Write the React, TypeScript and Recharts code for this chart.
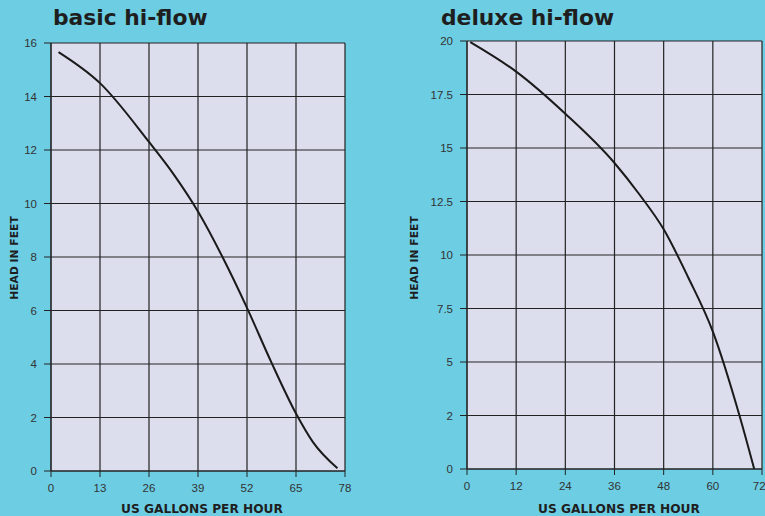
import React from 'react';
import { LineChart, Line, XAxis, YAxis, CartesianGrid } from 'recharts';

// basic hi-flow curve (gallons per hour vs head in feet)
const basicGph = [2, 13, 26, 32.5, 39, 45.5, 52, 58.5, 65, 69.5, 76];
const basicHead = [15.66, 14.5, 12.3, 11.1, 9.7, 8.0, 6.1, 4.05, 2.15, 1.08, 0.1];
const basicXTicks = [0, 13, 26, 39, 52, 65, 78];
const basicYTicks = [0, 2, 4, 6, 8, 10, 12, 14, 16];

// deluxe hi-flow curve
const deluxeGph = [0.8, 12, 24, 36, 42, 48, 54, 60, 66.5, 70.1];
const deluxeHead = [19.95, 18.57, 16.6, 14.3, 12.85, 11.2, 8.95, 6.42, 2.5, 0];
const deluxeXTicks = [0, 12, 24, 36, 48, 60, 72];
const deluxeYTicks = [0, 2.5, 5, 7.5, 10, 12.5, 15, 17.5, 20];
const deluxeYLabels = ['0', '2', '5', '7.5', '10', '12.5', '15', '17.5', '20'];

const basicData = basicGph.map((x, i) => ({ gph: x, head: basicHead[i] }));
const deluxeData = deluxeGph.map((x, i) => ({ gph: x, head: deluxeHead[i] }));

const BG = '#6ccde3';
const PLOT = '#dcdeee';
const INK = '#222';
const tickStyle = { fontSize: 11.5, fill: '#333', fontFamily: 'Liberation Sans, Arial, sans-serif' };

const titleStyle: React.CSSProperties = {
  position: 'absolute',
  top: 7,
  fontFamily: '"DejaVu Sans", sans-serif',
  fontWeight: 700,
  fontSize: 21.8,
  lineHeight: 1,
  color: '#1e1e1e',
  whiteSpace: 'nowrap',
};

const xLabelStyle: React.CSSProperties = {
  position: 'absolute',
  top: 503,
  fontFamily: '"DejaVu Sans", sans-serif',
  fontWeight: 700,
  fontSize: 12.2,
  lineHeight: 1,
  color: '#1e1e1e',
  whiteSpace: 'nowrap',
  transform: 'translateX(-50%)',
};

const yLabelStyle: React.CSSProperties = {
  position: 'absolute',
  top: 257.5,
  fontFamily: '"DejaVu Sans", sans-serif',
  fontWeight: 700,
  fontSize: 10.75,
  lineHeight: 1,
  color: '#1e1e1e',
  whiteSpace: 'nowrap',
  transform: 'translate(-50%, -50%) rotate(-90deg)',
};

const App: React.FC = () => {
  return (
    <div style={{ position: 'absolute', left: 0, top: 0, width: 765, height: 516, background: BG, overflow: 'hidden' }}>
      <div style={{ ...titleStyle, left: 53 }}>basic hi-flow</div>
      <div style={{ ...titleStyle, left: 441 }}>deluxe hi-flow</div>

      <div style={{ position: 'absolute', left: 0, top: 0 }}>
        <LineChart width={380} height={516} data={basicData} margin={{ top: 43, right: 35, bottom: 20, left: 0 }}>
          <CartesianGrid stroke={INK} strokeWidth={1.2} fill={PLOT} fillOpacity={1} />
          <XAxis
            dataKey="gph"
            type="number"
            domain={[0, 78]}
            ticks={basicXTicks}
            height={25}
            tick={tickStyle}
            tickSize={6}
            tickMargin={7}
            stroke={INK}
          />
          <YAxis
            dataKey="head"
            type="number"
            domain={[0, 16]}
            ticks={basicYTicks}
            width={51}
            tick={tickStyle}
            tickSize={7}
            tickMargin={7}
            stroke={INK}
          />
          <Line dataKey="head" type="monotone" stroke="#1a1a1a" strokeWidth={2} dot={false} isAnimationActive={false} />
        </LineChart>
      </div>

      <div style={{ position: 'absolute', left: 400, top: 0 }}>
        <LineChart width={365} height={516} data={deluxeData} margin={{ top: 41, right: 3, bottom: 22, left: 0 }}>
          <CartesianGrid stroke={INK} strokeWidth={1.2} fill={PLOT} fillOpacity={1} />
          <XAxis
            dataKey="gph"
            type="number"
            domain={[0, 72]}
            ticks={deluxeXTicks}
            height={25}
            tick={tickStyle}
            tickSize={6}
            tickMargin={7}
            stroke={INK}
          />
          <YAxis
            dataKey="head"
            type="number"
            domain={[0, 20]}
            ticks={deluxeYTicks}
            tickFormatter={(v: number) => deluxeYLabels[deluxeYTicks.indexOf(v)] ?? String(v)}
            width={67}
            tick={tickStyle}
            tickSize={7}
            tickMargin={7}
            stroke={INK}
          />
          <Line dataKey="head" type="monotone" stroke="#1a1a1a" strokeWidth={2} dot={false} isAnimationActive={false} />
        </LineChart>
      </div>

      <div style={{ ...xLabelStyle, left: 202 }}>US GALLONS PER HOUR</div>
      <div style={{ ...xLabelStyle, left: 619 }}>US GALLONS PER HOUR</div>
      <div style={{ ...yLabelStyle, left: 14.5 }}>HEAD IN FEET</div>
      <div style={{ ...yLabelStyle, left: 414.5 }}>HEAD IN FEET</div>
    </div>
  );
};

export default App;
